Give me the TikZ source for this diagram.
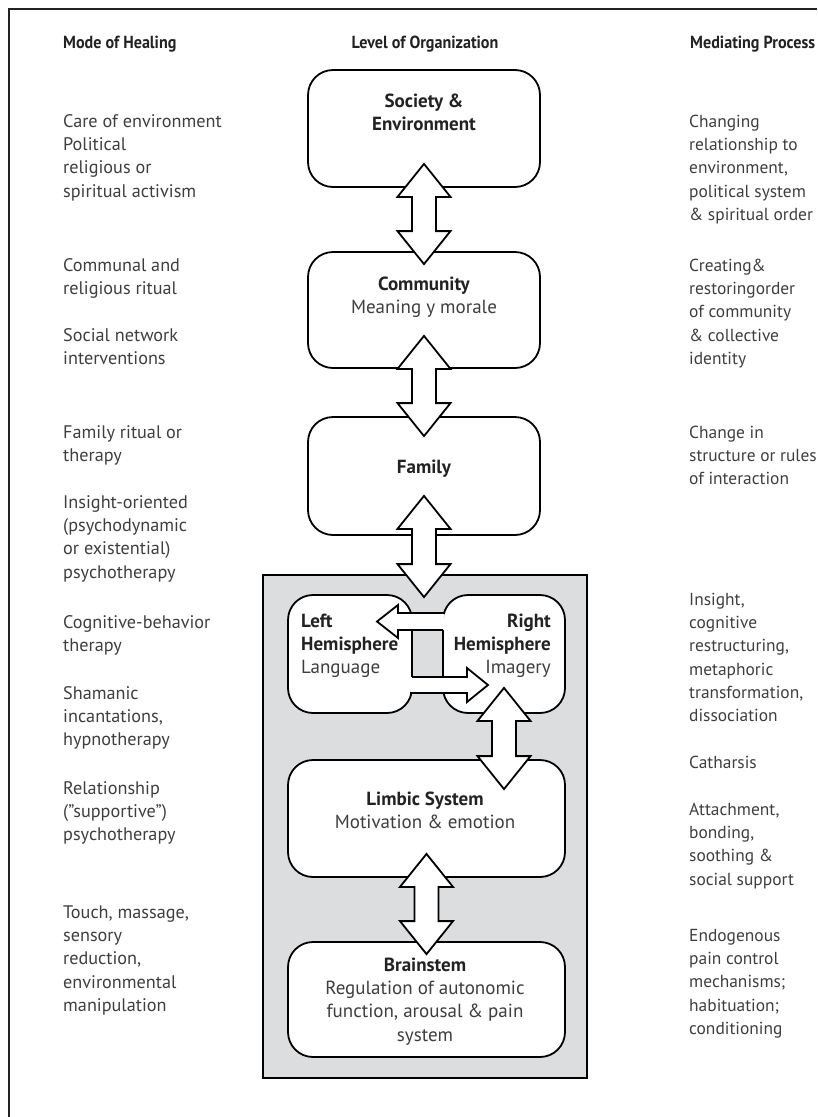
\documentclass[tikz,border=0pt]{standalone}
\usepackage{fontspec}
\setmainfont{PT Sans}
\newfontfamily\hdrfont[FakeStretch=0.92]{PT Sans}
\usetikzlibrary{calc}
\definecolor{txtgray}{HTML}{3E3E3E}
\definecolor{ttlblack}{HTML}{222222}
\definecolor{panelgray}{HTML}{DCDDDF}
\newcommand\leftfs{\fontsize{18.2}{23.3}\selectfont}
\newcommand\rightfs{\fontsize{17.4}{23.3}\selectfont}
\newcommand\boxfs{\fontsize{19}{23.3}\selectfont}
\newcommand\hdrfs{\fontsize{17.5}{23.3}\selectfont}
% vertical double arrow between two tip points (canvas y up)
\newcommand\vdarrow[2]{%
  \draw[dblarrow] let \p1=(#1), \p2=(#2) in
    (\x1,\y1) -- (\x1+26.5pt,\y1-33pt) -- (\x1+12pt,\y1-33pt) -- (\x1+12pt,\y2+33pt)
    -- (\x1+26.5pt,\y2+33pt) -- (\x1,\y2) -- (\x1-26.5pt,\y2+33pt) -- (\x1-12pt,\y2+33pt)
    -- (\x1-12pt,\y1-33pt) -- (\x1-26.5pt,\y1-33pt) -- cycle;}
\begin{document}
\begin{tikzpicture}[x=1pt,y=-1pt,
  box/.style={draw=black, line width=1.8pt, fill=white, rounded corners=25pt, inner sep=0pt},
  dblarrow/.style={draw=black, fill=white, line width=1.8pt, line join=miter},
  lcol/.style={anchor=north west, align=left, inner sep=0pt, font=\leftfs, text=txtgray},
  rcol/.style={anchor=north west, align=left, inner sep=0pt, font=\rightfs, text=txtgray},
  hdr/.style={inner sep=0pt, font=\hdrfont\hdrfs\bfseries, text=ttlblack},
  intext/.style={anchor=north, align=center, inner sep=0pt, font=\boxfs, text=ttlblack},
]
\useasboundingbox (0,0) rectangle (817,1117);
% frame
\coordinate (fr1) at (817,9);
\coordinate (fr2) at (9,9);
\coordinate (fr3) at (9,1117);
\draw[line width=2.2pt, draw=ttlblack] (fr1) -- (fr2) -- (fr3);

% headers
\node[hdr, anchor=north west] (h1) at (63,{48-16.31}) {\strut Mode of Healing};
\node[hdr, anchor=north] (h2) at (425,{48-16.31}) {\strut Level of Organization};
\node[hdr, anchor=north west] (h3) at (690,{48-16.31}) {\strut Mediating Process};

% left column
\node[lcol] (l1) at (63,{127-16.31}) {\strut Care of environment\\Political\\religious or\\spiritual activism};
\node[lcol] (l2) at (63,{271-16.31}) {\strut Communal and\\religious ritual};
\node[lcol] (l3) at (63,{341-16.31}) {\strut Social network\\interventions};
\node[lcol] (l4) at (63,{438-16.31}) {\strut Family ritual or\\therapy};
\node[lcol] (l5) at (63,{508-16.31}) {\strut Insight-oriented\\(psychodynamic\\or existential)\\psychotherapy};
\node[lcol] (l6) at (63,{628-16.31}) {\strut Cognitive-behavior\\therapy};
\node[lcol] (l7) at (63,{699-16.31}) {\strut Shamanic\\incantations,\\hypnotherapy};
\node[lcol] (l8) at (63,{794-16.31}) {\strut Relationship\\("supportive")\\psychotherapy};
\node[lcol] (l9) at (63,{918-16.31}) {\strut Touch, massage,\\sensory\\reduction,\\environmental\\manipulation};

% right column
\node[rcol] (r1) at (689,{127-16.31}) {\strut Changing\\relationship to\\environment,\\political system\\\& spiritual order};
\node[rcol] (r2) at (689,{271-16.31}) {\strut Creating\&\\restoringorder\\of community\\\& collective\\identity};
\node[rcol] (r3) at (689,{438-16.31}) {\strut Change in\\structure or rules\\of interaction};
\node[rcol] (r4) at (689,{605-16.31}) {\strut Insight,\\cognitive\\restructuring,\\metaphoric\\transformation,\\dissociation};
\node[rcol] (r5) at (689,{768-16.31}) {\strut Catharsis};
\node[rcol] (r6) at (689,{815-16.31}) {\strut Attachment,\\bonding,\\soothing \&\\social support};
\node[rcol] (r7) at (689,{941-16.31}) {\strut Endogenous\\pain control\\mechanisms;\\habituation;\\conditioning};

% gray panel
\node[draw=black, fill=panelgray, line width=1.8pt, minimum width=324pt, minimum height=503pt, inner sep=0pt] (panel) at (425,826.5) {};

% boxes
\node[box, minimum width=232pt, minimum height=117pt] (soc) at (424,128.5) {};
\node[box, minimum width=232pt, minimum height=116pt] (com) at (424,310) {};
\node[box, minimum width=232pt, minimum height=118pt] (fam) at (424,476) {};
\node[box, minimum width=124pt, minimum height=118pt] (lh) at (350,654) {};
\node[box, minimum width=122pt, minimum height=118pt] (rh) at (504,654) {};
\node[box, minimum width=277pt, minimum height=117pt] (lim) at (426.5,818.5) {};
\node[box, minimum width=277pt, minimum height=115pt] (brn) at (426.5,999.5) {};

% hemisphere cross arrows
\fill[white] (444.6,613) -- (398,613) -- (398,605) -- (377,621.5) -- (398,638) -- (398,630) -- (444.6,630) -- cycle;
\draw[line width=1.8pt, line join=miter] (445,613) -- (398,613) -- (398,605) -- (377,621.5) -- (398,638) -- (398,630) -- (443,630);
\fill[white] (410.4,677) -- (467,677) -- (467,668) -- (488,685) -- (467,702) -- (467,693) -- (410.4,693) -- cycle;
\draw[line width=1.8pt, line join=miter] (412,677) -- (467,677) -- (467,668) -- (488,685) -- (467,702) -- (467,693) -- (410,693);

% texts inside boxes
\node[intext, font=\boxfs\bfseries] (soct) at (424,{107-16.31}) {\strut Society \&\\Environment};
\node[intext] (comt) at (424,{290-16.31}) {\strut\textbf{Community}\\\color{txtgray}Meaning y morale};
\node[intext, font=\boxfs\bfseries] (famt) at (424,{473-16.31}) {\strut Family};
\node[intext, anchor=north west, align=left] (lht) at (301,{627-16.31}) {\strut\textbf{Left}\\\textbf{Hemisphere}\\\color{txtgray}Language};
\node[intext, anchor=north east, align=right] (rht) at (551,{627-16.31}) {\strut\textbf{Right}\\\textbf{Hemisphere}\\\color{txtgray}Imagery};
\node[intext] (limt) at (425,{805-16.31}) {\strut\textbf{Limbic System}\\\color{txtgray}Motivation \& emotion};
\node[intext, text=txtgray] (brnt) at (425,{971-16.31}) {\strut\textcolor{ttlblack}{\textbf{Brainstem}}\\Regulation of autonomic\\function, arousal \& pain\\system};

% vertical double arrows
\vdarrow{$(soc.south)+(0,-24)$}{$(com.north)+(0,13)$}
\vdarrow{$(com.south)+(0,-33)$}{$(fam.north)+(0,20)$}
\vdarrow{$(fam.south)+(0,-40)$}{$(fam.south |- lh.north)+(0,3)$}
\vdarrow{$(rh.south)+(0,-26)$}{$(rh.south |- lim.north)+(0,30)$}
\vdarrow{$(lim.south)+(0,-24)$}{$(lim.south |- brn.north)+(0,13)$}
\end{tikzpicture}
\end{document}
